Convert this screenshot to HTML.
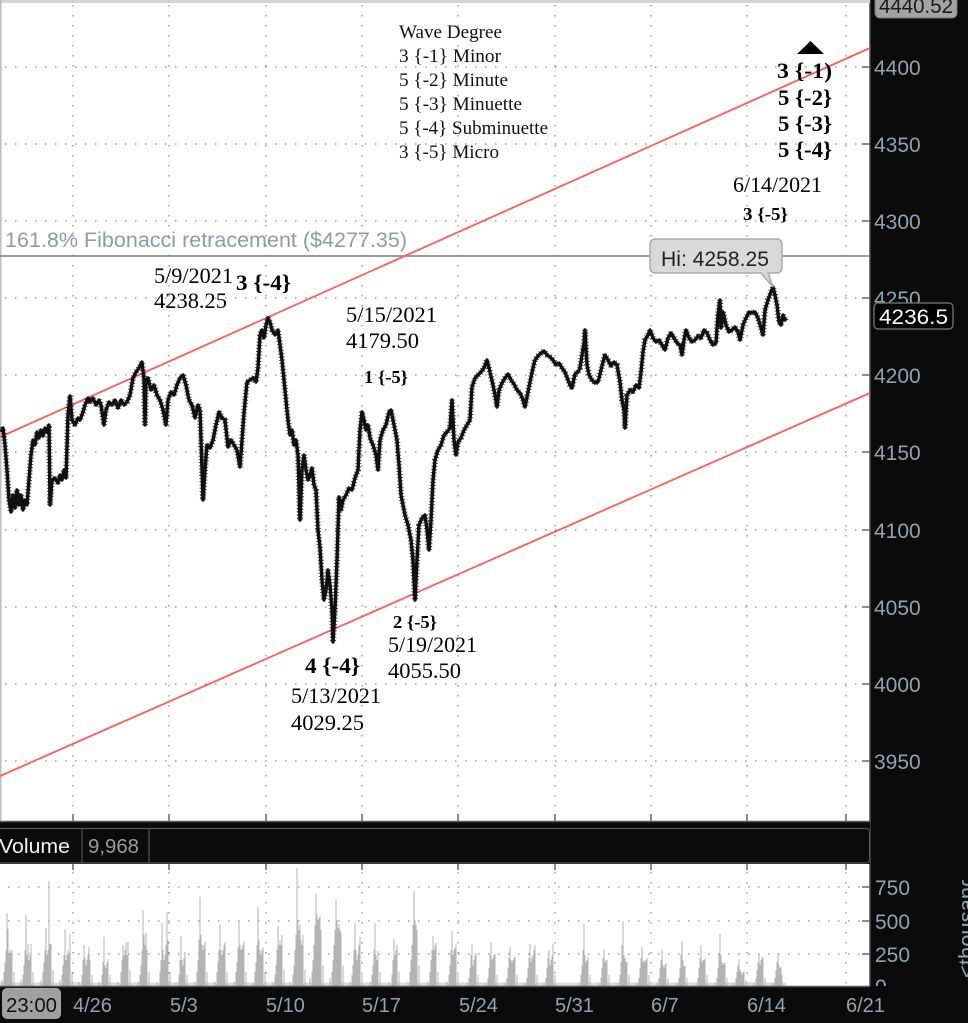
<!DOCTYPE html>
<html><head><meta charset="utf-8"><style>html,body{margin:0;padding:0;background:#fff}svg{display:block}</style></head>
<body>
<svg width="968" height="1023" viewBox="0 0 968 1023" xmlns="http://www.w3.org/2000/svg" xmlns:xlink="http://www.w3.org/1999/xlink">
<defs>
<clipPath id="volclip"><rect x="870" y="880" width="98" height="106"/></clipPath>
<polyline id="px" points="1,432 3,428 5,445 7,470 9,500 11,512 13,495 15,508 17,490 19,505 21,495 23,510 25,500 27,505 29,480 31,455 33,440 35,445 37,432 39,438 41,430 43,436 45,428 47,432 49,425 50,505 52,480 55,478 58,483 60,475 62,480 64,470 66,478 68,415 70,396 72,420 75,425 78,418 80,420 83,412 85,405 88,398 90,402 93,398 96,405 99,400 101,405 104,425 106,410 109,402 112,405 115,400 118,408 121,400 124,405 127,402 130,395 133,378 136,372 139,368 142,362 144,380 145,425 146,380 148,378 151,390 154,385 157,395 160,400 163,410 166,425 168,400 171,392 174,395 177,385 180,378 183,375 186,385 189,400 192,405 195,418 198,405 200,410 202,470 203,500 205,470 207,445 210,448 213,440 216,425 219,412 222,418 225,420 228,447 231,440 234,445 237,450 240,467 242,440 244,413 247,382 250,380 253,378 256,382 258,368 260,335 262,330 264,338 266,325 268,318 270,322 272,330 275,335 278,330 280,345 282,360 284,380 286,400 288,420 290,435 292,430 294,445 296,440 298,455 300,520 302,470 304,455 306,470 308,480 310,475 312,468 314,485 316,490 318,530 320,548 322,580 324,600 326,590 328,570 330,585 332,610 333,642 335,610 337,560 339,497 341,510 343,500 346,495 349,488 352,490 355,478 358,470 360,430 362,412 364,420 366,430 368,425 370,438 373,445 376,455 378,470 380,440 383,430 386,425 389,412 391,410 393,420 395,430 397,440 399,465 401,495 403,505 405,515 408,525 411,540 413,560 415,600 417,560 419,525 422,518 425,515 427,530 429,550 431,520 433,480 435,460 438,450 441,445 444,435 447,432 450,428 452,400 454,440 456,455 458,442 461,438 464,430 467,425 470,420 472,387 475,378 478,375 481,372 484,368 487,360 490,372 493,385 495,395 497,407 499,390 502,383 505,378 508,374 511,380 514,384 517,390 520,393 523,400 525,407 528,392 530,382 533,368 535,360 538,356 541,353 544,351 547,355 550,357 553,360 556,365 559,363 562,368 565,372 568,380 570,385 572,388 575,374 578,372 580,368 582,355 584,343 585,330 587,365 589,375 592,380 595,383 598,382 601,370 603,362 605,355 608,360 611,366 614,362 617,365 620,382 622,400 624,410 625,428 627,395 630,390 633,392 636,385 639,388 641,372 643,352 645,340 648,335 650,330 653,338 656,342 659,340 662,345 665,350 668,338 671,333 674,338 677,343 680,345 682,355 684,340 686,330 689,338 692,342 695,340 698,336 701,338 704,330 707,333 710,340 713,345 716,343 718,315 720,300 721,328 723,312 726,325 729,332 732,330 735,327 738,332 740,340 743,325 746,318 749,312 752,313 755,312 758,318 761,328 763,335 765,310 768,300 771,292 773,287 775,295 777,305 779,322 781,325 783,315 785,320 786,318"/>
</defs>
<rect x="0" y="0" width="968" height="1023" fill="#fff"/>
<rect x="870" y="0" width="98" height="1023" fill="#0b0b0b"/>
<line x1="870" y1="0" x2="870" y2="1023" stroke="#4a4a4a" stroke-width="1.5"/>
<rect x="0" y="0" width="870" height="3" fill="#d4d4d4"/>
<rect x="0" y="0" width="1.5" height="822" fill="#bdbdbd"/>

<g stroke="#6e6e6e" stroke-width="1" stroke-dasharray="1.5 8.5" fill="none">
<line x1="5" y1="67" x2="862" y2="67"/>
<line x1="5" y1="144" x2="862" y2="144"/>
<line x1="5" y1="221" x2="862" y2="221"/>
<line x1="5" y1="298" x2="862" y2="298"/>
<line x1="5" y1="375" x2="862" y2="375"/>
<line x1="5" y1="452" x2="862" y2="452"/>
<line x1="5" y1="530" x2="862" y2="530"/>
<line x1="5" y1="607" x2="862" y2="607"/>
<line x1="5" y1="684" x2="862" y2="684"/>
<line x1="5" y1="761" x2="862" y2="761"/>
<line x1="73" y1="5" x2="73" y2="820"/>
<line x1="169" y1="5" x2="169" y2="820"/>
<line x1="266" y1="5" x2="266" y2="820"/>
<line x1="362" y1="5" x2="362" y2="820"/>
<line x1="458" y1="5" x2="458" y2="820"/>
<line x1="555" y1="5" x2="555" y2="820"/>
<line x1="651" y1="5" x2="651" y2="820"/>
<line x1="747" y1="5" x2="747" y2="820"/>
<line x1="846" y1="5" x2="846" y2="820"/>
<line x1="8" y1="887" x2="862" y2="887"/>
<line x1="8" y1="921" x2="862" y2="921"/>
<line x1="8" y1="954" x2="862" y2="954"/>
<line x1="73" y1="872" x2="73" y2="985"/>
<line x1="169" y1="872" x2="169" y2="985"/>
<line x1="266" y1="872" x2="266" y2="985"/>
<line x1="362" y1="872" x2="362" y2="985"/>
<line x1="458" y1="872" x2="458" y2="985"/>
<line x1="555" y1="872" x2="555" y2="985"/>
<line x1="651" y1="872" x2="651" y2="985"/>
<line x1="747" y1="872" x2="747" y2="985"/>
<line x1="846" y1="872" x2="846" y2="985"/>
</g>
<g stroke="#666" stroke-width="1.5">
<line x1="862" y1="67" x2="870" y2="67"/><line x1="862" y1="144" x2="870" y2="144"/>
<line x1="862" y1="221" x2="870" y2="221"/><line x1="862" y1="298" x2="870" y2="298"/>
<line x1="862" y1="375" x2="870" y2="375"/><line x1="862" y1="452" x2="870" y2="452"/>
<line x1="862" y1="530" x2="870" y2="530"/><line x1="862" y1="607" x2="870" y2="607"/>
<line x1="862" y1="684" x2="870" y2="684"/><line x1="862" y1="761" x2="870" y2="761"/>
<line x1="862" y1="887" x2="870" y2="887"/><line x1="862" y1="921" x2="870" y2="921"/>
<line x1="862" y1="954" x2="870" y2="954"/>
<line x1="73" y1="864" x2="73" y2="870"/><line x1="169" y1="864" x2="169" y2="870"/>
<line x1="266" y1="864" x2="266" y2="870"/><line x1="362" y1="864" x2="362" y2="870"/>
<line x1="458" y1="864" x2="458" y2="870"/><line x1="555" y1="864" x2="555" y2="870"/>
<line x1="651" y1="864" x2="651" y2="870"/><line x1="747" y1="864" x2="747" y2="870"/>
<line x1="846" y1="864" x2="846" y2="870"/>
<line x1="73" y1="814" x2="73" y2="821"/><line x1="169" y1="814" x2="169" y2="821"/>
<line x1="266" y1="814" x2="266" y2="821"/><line x1="362" y1="814" x2="362" y2="821"/>
<line x1="458" y1="814" x2="458" y2="821"/><line x1="555" y1="814" x2="555" y2="821"/>
<line x1="651" y1="814" x2="651" y2="821"/><line x1="747" y1="814" x2="747" y2="821"/>
<line x1="846" y1="814" x2="846" y2="821"/>
</g>

<line x1="0" y1="256" x2="870" y2="256" stroke="#7a7a7a" stroke-width="1.6"/>
<text x="5" y="247" font-family="Liberation Sans, sans-serif" font-size="21" fill="#8b9bab" textLength="402" lengthAdjust="spacingAndGlyphs">161.8% Fibonacci retracement ($4277.35)</text>

<line x1="0" y1="437" x2="870" y2="48" stroke="#ff5c5c" stroke-width="1.8"/>
<line x1="0" y1="776" x2="870" y2="393" stroke="#ff5c5c" stroke-width="1.8"/>

<use xlink:href="#px" href="#px" fill="none" stroke="#111" stroke-width="3.4" stroke-linejoin="round"/>
<use xlink:href="#px" href="#px" fill="none" stroke="#111" stroke-width="6" stroke-dasharray="1 2.2" stroke-linejoin="bevel" opacity="0.75"/>

<g font-family="Liberation Serif, serif" font-size="19" fill="#111">
<text x="399" y="38" textLength="103" lengthAdjust="spacingAndGlyphs">Wave Degree</text>
<text x="399" y="62" textLength="102" lengthAdjust="spacingAndGlyphs">3 {-1} Minor</text>
<text x="399" y="86" textLength="109" lengthAdjust="spacingAndGlyphs">5 {-2} Minute</text>
<text x="399" y="110" textLength="123" lengthAdjust="spacingAndGlyphs">5 {-3} Minuette</text>
<text x="399" y="134" textLength="149" lengthAdjust="spacingAndGlyphs">5 {-4} Subminuette</text>
<text x="399" y="158" textLength="100" lengthAdjust="spacingAndGlyphs">3 {-5} Micro</text>
</g>

<polygon points="797,54 824,54 810.5,41" fill="#000"/>
<g font-family="Liberation Serif, serif" font-weight="bold" font-size="22" fill="#000">
<text x="777" y="78" textLength="55" lengthAdjust="spacingAndGlyphs">3 {-1)</text>
<text x="778" y="105" textLength="54" lengthAdjust="spacingAndGlyphs">5 {-2}</text>
<text x="778" y="131" textLength="54" lengthAdjust="spacingAndGlyphs">5 {-3}</text>
<text x="778" y="157" textLength="54" lengthAdjust="spacingAndGlyphs">5 {-4}</text>
<text x="236" y="290" textLength="55" lengthAdjust="spacingAndGlyphs">3 {-4}</text>
<text x="305" y="673" textLength="55" lengthAdjust="spacingAndGlyphs">4 {-4}</text>
</g>
<g font-family="Liberation Serif, serif" font-weight="bold" font-size="18" fill="#000">
<text x="743" y="220" textLength="45" lengthAdjust="spacingAndGlyphs">3 {-5}</text>
<text x="364" y="383" textLength="44" lengthAdjust="spacingAndGlyphs">1 {-5}</text>
<text x="393" y="628" textLength="44" lengthAdjust="spacingAndGlyphs">2 {-5}</text>
</g>
<g font-family="Liberation Serif, serif" font-size="22" fill="#000">
<text x="733" y="192" textLength="89" lengthAdjust="spacingAndGlyphs">6/14/2021</text>
<text x="154" y="283" textLength="79" lengthAdjust="spacingAndGlyphs">5/9/2021</text>
<text x="154" y="308" textLength="73" lengthAdjust="spacingAndGlyphs">4238.25</text>
<text x="346" y="322" textLength="91" lengthAdjust="spacingAndGlyphs">5/15/2021</text>
<text x="346" y="348" textLength="73" lengthAdjust="spacingAndGlyphs">4179.50</text>
<text x="388" y="652" textLength="89" lengthAdjust="spacingAndGlyphs">5/19/2021</text>
<text x="388" y="678" textLength="73" lengthAdjust="spacingAndGlyphs">4055.50</text>
<text x="291" y="703" textLength="90" lengthAdjust="spacingAndGlyphs">5/13/2021</text>
<text x="291" y="730" textLength="73" lengthAdjust="spacingAndGlyphs">4029.25</text>
</g>

<path d="M656,239 H776 Q782,239 782,245 V267 Q782,273 776,273 H768 L773,287 L761,273 H656 Q650,273 650,267 V245 Q650,239 656,239 Z" fill="#d9d9d9" stroke="#a9a9a9" stroke-width="1.5"/>
<text x="661" y="266" font-family="Liberation Sans, sans-serif" font-size="21" fill="#222" textLength="108" lengthAdjust="spacingAndGlyphs">Hi: 4258.25</text>

<g font-family="Liberation Sans, sans-serif" font-size="21" fill="#93a2b0">
<text x="874" y="75">4400</text>
<text x="874" y="152">4350</text>
<text x="874" y="229">4300</text>
<text x="874" y="306">4250</text>
<text x="874" y="383">4200</text>
<text x="874" y="460">4150</text>
<text x="874" y="538">4100</text>
<text x="874" y="615">4050</text>
<text x="874" y="692">4000</text>
<text x="874" y="769">3950</text>
<text x="875" y="895">750</text>
<text x="875" y="929">500</text>
<text x="875" y="962">250</text>
<text x="875" y="994">0</text>
</g>
<rect x="875" y="-10" width="82" height="28" rx="5" fill="#a3a3a3" stroke="#777" stroke-width="1"/>
<text x="879" y="13" font-family="Liberation Sans, sans-serif" font-size="21" fill="#1a1a1a" textLength="74" lengthAdjust="spacingAndGlyphs">4440.52</text>
<rect x="874" y="303" width="79" height="26" rx="4" fill="#000" stroke="#6a6a6a" stroke-width="1.5"/>
<text x="879" y="324" font-family="Liberation Sans, sans-serif" font-size="21" fill="#fff" textLength="69" lengthAdjust="spacingAndGlyphs">4236.5</text>

<rect x="0" y="821" width="870" height="43" fill="#0b0b0b"/>
<line x1="0" y1="821.5" x2="870" y2="821.5" stroke="#5a5a5a" stroke-width="1.5"/>
<rect x="-5" y="828.5" width="874.5" height="34.5" rx="3" fill="#0b0b0b" stroke="#555" stroke-width="1.2"/>
<line x1="82" y1="829" x2="82" y2="863" stroke="#555" stroke-width="1.2"/>
<line x1="149" y1="829" x2="149" y2="863" stroke="#555" stroke-width="1.2"/>
<text x="-1" y="853" font-family="Liberation Sans, sans-serif" font-size="20" fill="#f2f2f2" textLength="71" lengthAdjust="spacingAndGlyphs">Volume</text>
<text x="88" y="853" font-family="Liberation Sans, sans-serif" font-size="20" fill="#9a9a9a" textLength="51" lengthAdjust="spacingAndGlyphs">9,968</text>

<rect x="0" y="982.5" width="786" height="3.5" fill="#dadada"/>
<path fill="none" stroke="#b3b3b3" stroke-width="1" d="M2 986V980M4 986V972M5 986V963M6 986V950M7 986V913M8 986V929M9 986V955M10 986V950M11 986V953M12 986V950M14 986V972
M21 986V980M23 986V975M24 986V965M25 986V950M26 986V915M27 986V955M28 986V944M29 986V960M30 986V955M31 986V944M33 986V972
M41 986V980M43 986V972M44 986V962M45 986V950M46 986V928M47 986V955M48 986V950M49 986V881M50 986V944M51 986V944M53 986V970
M60 986V980M62 986V975M63 986V965M64 986V955M65 986V929M66 986V960M67 986V955M68 986V950M69 986V955M70 986V934M72 986V972
M79 986V982M82 986V975M83 986V960M84 986V945M85 986V958M86 986V965M87 986V960M88 986V955M89 986V947M90 986V960M92 986V975
M99 986V982M102 986V975M103 986V962M104 986V937M105 986V965M106 986V968M107 986V962M108 986V959M110 986V975
M118 986V982M121 986V972M122 986V960M123 986V945M124 986V955M125 986V950M126 986V942M127 986V955M128 986V942M130 986V970
M138 986V982M140 986V975M141 986V965M142 986V950M143 986V910M144 986V935M145 986V945M146 986V933M147 986V950M149 986V972
M157 986V982M160 986V972M161 986V960M162 986V923M163 986V950M164 986V960M165 986V955M166 986V945M167 986V912M168 986V940M170 986V972
M176 986V982M179 986V975M180 986V960M181 986V936M182 986V960M183 986V965M184 986V958M185 986V952M187 986V975
M195 986V982M197 986V972M198 986V960M199 986V940M200 986V897M201 986V935M202 986V945M203 986V950M204 986V945M205 986V941M207 986V972
M215 986V982M217 986V972M218 986V962M219 986V950M220 986V925M221 986V950M222 986V955M223 986V950M224 986V945M225 986V942M227 986V972
M234 986V982M236 986V972M237 986V962M238 986V948M239 986V921M240 986V945M241 986V950M242 986V948M243 986V945M244 986V941M246 986V972
M253 986V982M255 986V972M256 986V962M257 986V945M258 986V907M259 986V940M260 986V950M261 986V955M262 986V950M263 986V947M265 986V972
M273 986V982M275 986V975M276 986V965M277 986V950M278 986V926M279 986V945M280 986V940M281 986V945M282 986V935M284 986V970
M290 986V982M293 986V975M294 986V965M295 986V950M296 986V935M297 986V868M298 986V920M299 986V930M300 986V925M301 986V940M302 986V945M303 986V935M305 986V970
M310 986V978M312 986V972M313 986V960M314 986V945M315 986V925M316 986V894M317 986V915M318 986V920M319 986V918M320 986V916M321 986V930M323 986V965
M330 986V978M332 986V972M333 986V960M334 986V945M335 986V930M336 986V900M337 986V920M338 986V928M339 986V924M340 986V930M341 986V933M343 986V965
M350 986V982M352 986V975M353 986V965M354 986V950M355 986V923M356 986V950M357 986V960M358 986V955M359 986V945M360 986V937M362 986V972
M370 986V982M372 986V975M373 986V965M374 986V950M375 986V923M376 986V955M377 986V960M378 986V951M380 986V972
M389 986V982M392 986V975M393 986V960M394 986V939M395 986V955M396 986V950M397 986V945M399 986V972
M408 986V982M410 986V972M411 986V960M412 986V945M413 986V925M414 986V891M415 986V920M416 986V925M417 986V930M419 986V965
M428 986V982M430 986V972M431 986V960M432 986V950M433 986V936M434 986V950M435 986V945M436 986V943M438 986V972
M447 986V982M449 986V975M450 986V965M451 986V950M452 986V931M453 986V955M454 986V950M455 986V948M456 986V945M458 986V972
M467 986V983M469 986V978M470 986V968M471 986V955M472 986V944M473 986V965M474 986V960M475 986V955M476 986V953M478 986V975
M486 986V983M488 986V978M489 986V968M490 986V955M491 986V942M492 986V960M493 986V958M494 986V955M495 986V954M497 986V975
M505 986V983M507 986V978M508 986V968M509 986V958M510 986V947M511 986V960M512 986V962M513 986V960M514 986V958M515 986V957M517 986V975
M525 986V983M527 986V978M528 986V968M529 986V958M530 986V944M531 986V962M532 986V958M533 986V955M534 986V950M535 986V945M537 986V975
M544 986V983M546 986V978M547 986V968M548 986V958M549 986V950M550 986V965M551 986V960M552 986V955M553 986V944M555 986V975
M579 986V983M581 986V975M582 986V965M583 986V950M584 986V924M585 986V955M586 986V962M587 986V960M588 986V957M590 986V975
M599 986V983M601 986V978M602 986V968M603 986V958M604 986V949M605 986V962M606 986V960M607 986V960M609 986V975
M618 986V983M620 986V975M621 986V962M622 986V945M623 986V921M624 986V955M625 986V958M626 986V962M627 986V962M629 986V975
M637 986V983M639 986V978M640 986V968M641 986V958M642 986V947M643 986V962M644 986V960M645 986V962M646 986V960M647 986V958M649 986V975
M657 986V983M659 986V978M660 986V968M661 986V960M662 986V950M663 986V965M664 986V968M665 986V965M666 986V963M668 986V978
M677 986V983M679 986V978M680 986V968M681 986V955M682 986V941M683 986V960M684 986V966M685 986V966M687 986V978
M696 986V983M698 986V978M699 986V968M700 986V958M701 986V945M702 986V962M703 986V960M704 986V960M705 986V958M707 986V975
M715 986V983M717 986V978M718 986V968M719 986V955M720 986V934M721 986V955M722 986V962M723 986V965M724 986V963M725 986V963M727 986V978
M734 986V983M736 986V978M737 986V972M738 986V965M739 986V959M740 986V970M741 986V972M742 986V975M743 986V972M744 986V972M746 986V980
M754 986V983M756 986V978M757 986V970M758 986V962M759 986V953M760 986V965M761 986V960M762 986V958M763 986V957M765 986V978
M773 986V983M775 986V978M776 986V970M777 986V962M778 986V953M779 986V965M780 986V968M781 986V967M782 986V975"/>

<g clip-path="url(#volclip)">
<text transform="translate(974,978) rotate(-90)" font-family="Liberation Sans, sans-serif" font-size="22" fill="#93a2b0">&lt;thousands&gt;</text>
</g>

<rect x="0" y="986" width="968" height="37" fill="#0b0b0b"/>
<line x1="0" y1="986.5" x2="870" y2="986.5" stroke="#555" stroke-width="1.5"/>
<rect x="2" y="988" width="59" height="31" rx="5" fill="#a0a0a0"/>
<text x="6" y="1012" font-family="Liberation Sans, sans-serif" font-size="20" fill="#111" textLength="51" lengthAdjust="spacingAndGlyphs">23:00</text>
<g font-family="Liberation Sans, sans-serif" font-size="20" fill="#93a2b0">
<text x="73" y="1012">4/26</text>
<text x="170" y="1012">5/3</text>
<text x="266" y="1012">5/10</text>
<text x="362" y="1012">5/17</text>
<text x="459" y="1012">5/24</text>
<text x="555" y="1012">5/31</text>
<text x="651" y="1012">6/7</text>
<text x="747" y="1012">6/14</text>
<text x="846" y="1012">6/21</text>
</g>
</svg>
</body></html>
